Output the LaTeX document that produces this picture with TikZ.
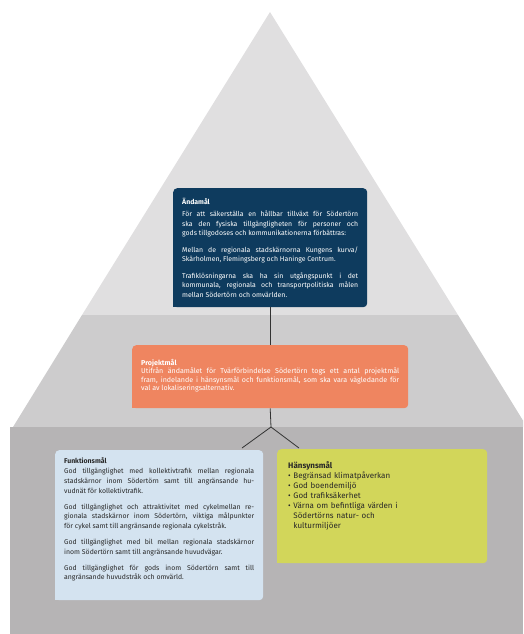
\documentclass[tikz,border=0pt]{standalone}
\usepackage{fontspec}
\setmainfont{Fira Sans}
\definecolor{bandtop}{RGB}{224,223,224}
\definecolor{bandmid}{RGB}{205,204,205}
\definecolor{bandlow}{RGB}{182,180,181}
\definecolor{andblue}{RGB}{14,59,94}
\definecolor{projorange}{RGB}{239,133,96}
\definecolor{funkblue}{RGB}{212,227,240}
\definecolor{hanyellow}{RGB}{210,214,90}
\definecolor{boxtext}{RGB}{40,40,40}
\newcommand\boxgap[1]{\par\vspace{#1}}
\begin{document}
\begin{tikzpicture}[x=1pt,y=-1pt,
    box/.style={anchor=north west,rounded corners=4pt,inner xsep=9pt,inner ysep=0pt,
      font=\fontsize{6.9}{9.8}\selectfont,align=justify},
    link/.style={draw=black!80,line width=.8pt}]

  \clip (0,0) rectangle (523,634);
  \fill[bandtop] (270,12) -- (458,315) -- (82,315) -- cycle;
  \fill[bandmid] (82,315) -- (458,315) -- (527,427) -- (13,427) -- cycle;
  \fill[bandlow] (10,427) rectangle (523,634);

  \node[box,fill=andblue,text=white,text width=176pt,minimum height=119pt,
    font=\fontsize{6.9}{9.5}\selectfont] (andamal) at (173,188)
    {\vspace*{3pt}\textbf{Ändamål}\par
     För att säkerställa en hållbar tillväxt för Södertörn\linebreak
     ska den fysiska tillgängligheten för personer och\linebreak
     gods tillgodoses och kommunikationerna förbättras:\boxgap{7pt}
     Mellan de regionala stadskärnorna Kungens kurva/\linebreak
     Skärholmen, Flemingsberg och Haninge Centrum.\boxgap{7pt}
     Trafiklösningarna ska ha sin utgångspunkt i det\linebreak
     kommunala, regionala och transportpolitiska målen\linebreak
     mellan Södertörn och omvärlden.};

  \node[box,fill=projorange,text=white,text width=258pt,minimum height=63pt,
    font=\fontsize{7.1}{8.6}\selectfont] (projekt) at (132,345)
    {\textbf{Projektmål}\par
     Utifrån ändamålet för Tvärförbindelse Södertörn togs ett antal projektmål\linebreak
     fram, indelande i hänsynsmål och funktionsmål, som ska vara vägledande för\linebreak
     val av lokaliseringsalternativ.\par\vspace{2pt}};

  \node[box,fill=funkblue,text=boxtext,text width=190pt,minimum height=150pt] (funktion) at (55,450)
    {\textbf{Funktionsmål}\par
     God tillgänglighet med kollektivtrafik mellan regionala\linebreak
     stadskärnor inom Södertörn samt till angränsande hu-\linebreak
     vudnät för kollektivtrafik.\boxgap{6pt}
     God tillgänglighet och attraktivitet med cykelmellan re-\linebreak
     gionala stadskärnor inom Södertörn, viktiga målpunkter\linebreak
     för cykel samt till angränsande regionala cykelstråk.\boxgap{6pt}
     God tillgänglighet med bil mellan regionala stadskärnor\linebreak
     inom Södertörn samt till angränsande huvudvägar.\boxgap{6pt}
     God tillgänglighet för gods inom Södertörn samt till\linebreak
     angränsande huvudstråk och omvärld.\par\vspace{11pt}};

  \node[box,fill=hanyellow,text=boxtext,text width=188pt,minimum height=114pt,
    inner xsep=11pt,align=left,font=\fontsize{8}{10}\selectfont] (hansyn) at (277,449)
    {\textbf{Hänsynsmål}\\
     • Begränsad klimatpåverkan\\
     • God boendemiljö\\
     • God trafiksäkerhet\\
     • Värna om befintliga värden i\\
     \phantom{• }Södertörns natur- och\\
     \phantom{• }kulturmiljöer\par\vspace{20pt}};

  \foreach \n/\c in {andamal/andblue,projekt/projorange,funktion/funkblue,hansyn/hanyellow}
    \fill[\c] (\n.south west) rectangle ++(6,-6);

  \coordinate (split) at (271,427);
  \coordinate (tofunk) at (242,448);
  \coordinate (tohans) at (299,448);
  \draw[link] (andamal.south) -- (projekt.north);
  \draw[link] (projekt.south) -- (split);
  \draw[link] (split) -- (tofunk);
  \draw[link] (split) -- (tohans);

\end{tikzpicture}
\end{document}
